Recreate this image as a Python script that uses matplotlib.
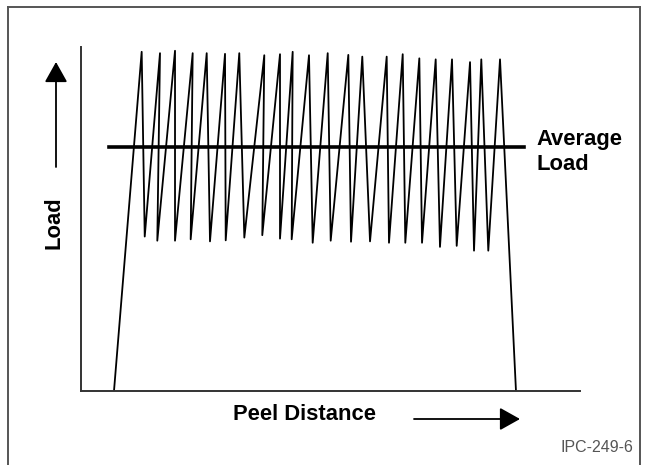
import numpy as np
import matplotlib.pyplot as plt
from matplotlib.lines import Line2D
from matplotlib.patches import FancyArrowPatch

plt.rcParams['font.family'] = ['Liberation Sans', 'DejaVu Sans']

# peel trace, axis runs 0..100 both ways (arbitrary units)
peak_x = [12.16, 15.83, 18.84, 22.38, 25.19, 28.86, 31.72, 36.73, 39.88, 42.42, 45.69,
          49.44, 53.57, 56.37, 61.26, 64.47, 67.80, 71.08, 74.35, 77.96, 80.22, 83.97]
peak_y = [98.6, 98.2, 98.9, 98.2, 98.2, 98.0, 98.2, 97.6, 97.9, 98.6, 97.6,
          98.2, 97.7, 97.2, 97.2, 97.9, 96.7, 96.4, 96.4, 95.6, 96.4, 96.4]
valley_x = [12.77, 15.29, 18.84, 21.98, 25.85, 29.00, 32.73, 36.33, 39.88, 42.22, 46.43,
            50.04, 54.11, 57.92, 61.72, 64.99, 68.34, 71.94, 75.29, 78.76, 81.62]
valley_y = [44.9, 43.7, 43.7, 44.1, 43.5, 43.8, 44.6, 45.3, 44.3, 44.1, 43.1,
            43.7, 43.4, 43.5, 43.1, 43.1, 43.1, 41.9, 42.2, 40.8, 40.8]
start_x, end_x = 6.61, 87.17
avg_load = 71.0
avg_x = [5.6, 88.8]

# build the sawtooth: start -> peak -> valley -> peak ... -> last peak -> end
xs = [start_x]
ys = [0]
for i in range(len(peak_x)):
    xs.append(peak_x[i])
    ys.append(peak_y[i])
    if i < len(valley_x):
        xs.append(valley_x[i])
        ys.append(valley_y[i])
xs.append(end_x)
ys.append(0)

W, H = 649, 465
fig = plt.figure(figsize=(W / 100, H / 100), dpi=100)
ax = fig.add_axes([81 / W, 1 - 391 / H, 499 / W, 344 / H])

ax.plot(xs, ys, color='black', lw=1.3)
ax.plot(avg_x, [avg_load, avg_load], color='black', lw=2.6)

ax.set_xlim(0, 100)
ax.set_ylim(0, 100)
ax.set_xticks([])
ax.set_yticks([])
ax.spines['top'].set_visible(False)
ax.spines['right'].set_visible(False)
for s in ['left', 'bottom']:
    ax.spines[s].set_color('#333333')
    ax.spines[s].set_linewidth(1.4)

def fx(px):
    return px / W

def fy(py):
    return 1 - py / H

# outer frame (open at the bottom)
frame_c = '#555555'
fig.add_artist(Line2D([fx(8), fx(8)], [0, fy(7)], color=frame_c, lw=1.4))
fig.add_artist(Line2D([fx(8), fx(640)], [fy(7), fy(7)], color=frame_c, lw=1.4))
fig.add_artist(Line2D([fx(640), fx(640)], [fy(7), 0], color=frame_c, lw=1.4))

fig.text(fx(536), fy(145), 'Average', fontsize=15.8, fontweight='bold',
         ha='left', va='baseline')
fig.text(fx(536), fy(170), 'Load', fontsize=15.8, fontweight='bold',
         ha='left', va='baseline')
fig.text(fx(304.5), fy(414.5), 'Peel Distance', fontsize=15.8, fontweight='bold',
         ha='center', va='center')
fig.text(fx(54), fy(223), 'Load', fontsize=15.8, fontweight='bold',
         ha='center', va='center', rotation=90)
fig.text(fx(633), fy(447), 'IPC-249-6', fontsize=11.5, color='#555555',
         ha='right', va='center')

arr = dict(arrowstyle='-|>,head_length=1.25,head_width=0.7', mutation_scale=10,
           color='black', lw=1.3, transform=fig.transFigure, shrinkA=0, shrinkB=0)
fig.add_artist(FancyArrowPatch((fx(56), fy(167)), (fx(56), fy(62)), **arr))
fig.add_artist(FancyArrowPatch((fx(414), fy(419)), (fx(520), fy(419)), **arr))

fig.savefig('out.png', dpi=100)
